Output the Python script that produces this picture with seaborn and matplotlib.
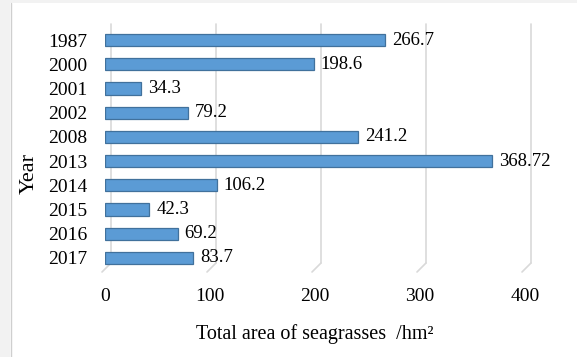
import matplotlib
matplotlib.use("Agg")
import matplotlib.pyplot as plt
import matplotlib.transforms as mtrans
import seaborn as sns
import pandas as pd
from matplotlib.patches import Rectangle
from matplotlib.lines import Line2D

years = ["1987", "2000", "2001", "2002", "2008", "2013", "2014", "2015", "2016", "2017"]
areas = [266.7, 198.6, 34.3, 79.2, 241.2, 368.72, 106.2, 42.3, 69.2, 83.7]
labels = ["266.7", "198.6", "34.3", "79.2", "241.2", "368.72", "106.2", "42.3", "69.2", "83.7"]
xticks = [0, 100, 200, 300, 400]

sns.set_theme(style="white")
plt.rcParams['font.family'] = ['Liberation Serif', 'DejaVu Serif']

df = pd.DataFrame({"Year": years, "Area": areas})

W, H = 577, 357
fig = plt.figure(figsize=(W / 100, H / 100), dpi=100)
fig.patch.set_facecolor("white")
# surrounding light-gray strips of the page
fig.patches.append(Rectangle((0, 0), 10/W, 1, transform=fig.transFigure,
                             facecolor="#f2f2f2", edgecolor="none"))
fig.patches.append(Rectangle((0, 1 - 3/H), 1, 3/H, transform=fig.transFigure,
                             facecolor="#f2f2f2", edgecolor="none"))
fig.lines.append(Line2D([10.5/W, 10.5/W], [0, 1 - 3/H], transform=fig.transFigure,
                        color="#cfcfcf", lw=1.0))

L, R, T, B = 105, 525, 28, 270
ax = fig.add_axes([L/W, 1 - B/H, (R - L)/W, (B - T)/H])
ax.set_facecolor("none")

sns.barplot(data=df, x="Area", y="Year", orient="h", color="#5B9BD5", width=0.5,
            edgecolor="#41719C", linewidth=0.9, saturation=1, ax=ax, zorder=3)

ax.set_xlim(0, 400)
ax.set_xticks(xticks)
ax.set_xticklabels([str(t) for t in xticks])
ax.grid(False)
for s in ax.spines.values():
    s.set_visible(False)

# 3D-style gridlines: back wall lines shifted right/up, with a floor diagonal
blend = mtrans.blended_transform_factory(ax.transData, ax.transAxes)
back = mtrans.offset_copy(blend, fig=fig, x=6, y=0, units="dots")
front = mtrans.offset_copy(blend, fig=fig, x=-3, y=0, units="dots")
y_top = 1 + 4 / (B - T)
y_bot = 7 / (B - T)
for t in xticks:
    ax.add_line(Line2D([t, t], [y_bot, y_top], transform=back, color="#d9d9d9",
                       lw=1.2, zorder=1, clip_on=False))
    x0 = back.transform((t, y_bot))
    x1 = front.transform((t, -2 / (B - T)))
    ax.add_line(Line2D([x0[0], x1[0]], [x0[1], x1[1]], transform=None,
                       color="#d9d9d9", lw=1.2, zorder=1, clip_on=False))

ax.tick_params(axis="y", length=0, pad=13, labelsize=14, labelcolor="#000000")
ax.tick_params(axis="x", length=0, pad=13, labelsize=14, labelcolor="#000000")

ax.bar_label(ax.containers[0], labels=labels, padding=5, fontsize=13.5, color="#000000")

ax.set_xlabel("Total area of seagrasses  /hm²", fontsize=14.5, labelpad=14, color="#000000")
ax.set_ylabel("Year", fontsize=16, color="#000000")
ax.yaxis.set_label_coords((39 - L) / (R - L), (B - 173) / (B - T))

fig.savefig("out.png", dpi=100, facecolor=fig.get_facecolor())
